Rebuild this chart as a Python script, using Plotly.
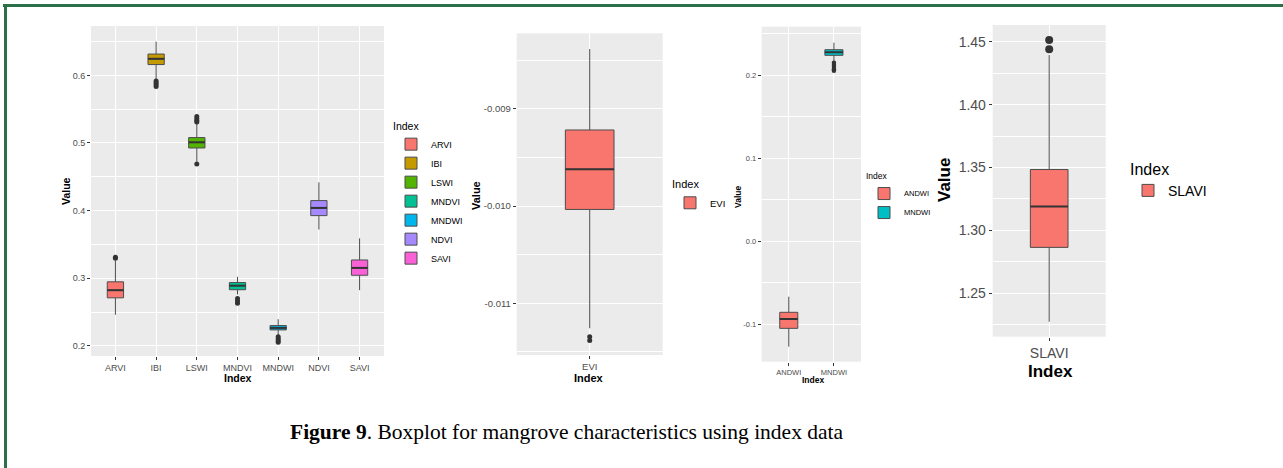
import plotly.graph_objects as go

W, H = 1283, 468

# ---------------- data ----------------
# Panel 1
p1_cats = ["ARVI", "IBI", "LSWI", "MNDVI", "MNDWI", "NDVI", "SAVI"]
p1_colors = ["#F8766D", "#C49A00", "#53B400", "#00C094", "#00B6EB", "#A58AFF", "#FB61D7"]
p1_lower = [0.246, 0.593, 0.4725, 0.276, 0.2148, 0.372, 0.2823]
p1_q1 = [0.271, 0.616, 0.4926, 0.283, 0.2236, 0.3926, 0.3044]
p1_med = [0.2823, 0.6245, 0.501, 0.289, 0.2266, 0.404, 0.3153]
p1_q3 = [0.2947, 0.6315, 0.508, 0.2936, 0.2300, 0.4148, 0.327]
p1_upper = [0.326, 0.650, 0.529, 0.302, 0.2394, 0.4418, 0.359]
p1_out = [[0.331, 0.3295], [0.5915, 0.589, 0.5865, 0.5835], [0.539, 0.536, 0.533, 0.531, 0.469],
          [0.270, 0.2665, 0.263], [0.2135, 0.2105, 0.208, 0.2055], [], []]
p1_ticks = [0.2, 0.3, 0.4, 0.5, 0.6]
p1_ticktext = ["0.2", "0.3", "0.4", "0.5", "0.6"]
p1_minor = [0.25, 0.35, 0.45, 0.55, 0.65]

# Panel 2
p2_cats = ["EVI"]
p2_colors = ["#F8766D"]
p2_lower = [-0.011257]
p2_q1 = [-0.010034]
p2_med = [-0.009621]
p2_q3 = [-0.009216]
p2_upper = [-0.008383]
p2_out = [[-0.011343, -0.011384]]
p2_ticks = [-0.011, -0.010, -0.009]
p2_ticktext = ["-0.011", "-0.010", "-0.009"]
p2_minor = [-0.0115, -0.0105, -0.0095, -0.0085]

# Panel 3
p3_cats = ["ANDWI", "MNDWI"]
p3_colors = ["#F8766D", "#00BFC4"]
p3_lower = [-0.1273, 0.216]
p3_q1 = [-0.1052, 0.2237]
p3_med = [-0.094, 0.2273]
p3_q3 = [-0.0859, 0.2305]
p3_upper = [-0.0671, 0.2389]
p3_out = [[], [0.2148, 0.212, 0.2095, 0.207, 0.2052]]
p3_ticks = [-0.1, 0.0, 0.1, 0.2]
p3_ticktext = ["-0.1", "0.0", "0.1", "0.2"]
p3_minor = [-0.15, -0.05, 0.05, 0.15, 0.25]

# Panel 4
p4_cats = ["SLAVI"]
p4_colors = ["#F8766D"]
p4_lower = [1.2274]
p4_q1 = [1.2865]
p4_med = [1.319]
p4_q3 = [1.3484]
p4_upper = [1.4394]
p4_out = [[1.4513, 1.444]]
p4_ticks = [1.25, 1.30, 1.35, 1.40, 1.45]
p4_ticktext = ["1.25", "1.30", "1.35", "1.40", "1.45"]
p4_minor = [1.225, 1.275, 1.325, 1.375, 1.425, 1.475]

caption_bold = "Figure 9"
caption_rest = ". Boxplot for mangrove characteristics using index data"

# ---------------- layout helpers ----------------
def px_x(v):
    return v / W

def px_y(v):
    return 1 - v / H

panels = [
    dict(cats=p1_cats, colors=p1_colors, lower=p1_lower, q1=p1_q1, med=p1_med, q3=p1_q3,
         upper=p1_upper, out=p1_out, ticks=p1_ticks, ticktext=p1_ticktext, minor=p1_minor,
         yr=[0.185, 0.673], box=(91, 384, 26, 356), tick_font=9, title_font=10.5,
         leg_font=9, leg_title=10.5, leg_pos=(391, 116), msize=5,
         vtitle=(66, 191), ititle=(238, 378)),
    dict(cats=p2_cats, colors=p2_colors, lower=p2_lower, q1=p2_q1, med=p2_med, q3=p2_q3,
         upper=p2_upper, out=p2_out, ticks=p2_ticks, ticktext=p2_ticktext, minor=p2_minor,
         yr=[-0.011532, -0.008221], box=(516.7, 662.7, 33.3, 355), tick_font=9.5, title_font=11,
         leg_font=9.5, leg_title=11, leg_pos=(670, 174), msize=5,
         vtitle=(476, 195), ititle=(589, 378)),
    dict(cats=p3_cats, colors=p3_colors, lower=p3_lower, q1=p3_q1, med=p3_med, q3=p3_q3,
         upper=p3_upper, out=p3_out, ticks=p3_ticks, ticktext=p3_ticktext, minor=p3_minor,
         yr=[-0.1454, 0.2582], box=(761.7, 861, 26.7, 361.7), tick_font=7.5, title_font=8.5,
         leg_font=7.5, leg_title=8.5, leg_pos=(864, 168), msize=4.5,
         vtitle=(738, 197), ititle=(813, 380)),
    dict(cats=p4_cats, colors=p4_colors, lower=p4_lower, q1=p4_q1, med=p4_med, q3=p4_q3,
         upper=p4_upper, out=p4_out, ticks=p4_ticks, ticktext=p4_ticktext, minor=p4_minor,
         yr=[1.2155, 1.4633], box=(992.7, 1105.7, 25, 336.7), tick_font=14, title_font=17,
         leg_font=14, leg_title=16, leg_pos=(1128, 154), msize=8,
         vtitle=(945, 180), ititle=(1050, 371)),
]

fig = go.Figure()
annotations = []
BOXW = 0.4
FONT = "Liberation Sans, Arial, sans-serif"

for k, p in enumerate(panels):
    sfx = "" if k == 0 else str(k + 1)
    xa, ya = "x" + sfx, "y" + sfx
    leg = "legend" + sfx
    n = len(p["cats"])
    for i, c in enumerate(p["cats"]):
        fig.add_trace(go.Box(
            x=[i], q1=[p["q1"][i]], median=[p["med"][i]], q3=[p["q3"][i]],
            lowerfence=[p["lower"][i]], upperfence=[p["upper"][i]],
            name=c, width=BOXW, whiskerwidth=0, boxpoints=False,
            fillcolor=p["colors"][i], line=dict(color="#4d4d4d", width=1),
            xaxis=xa, yaxis=ya, legend=leg, showlegend=True, hoverinfo="skip"))
        # thicker median line as in ggplot
        fig.add_trace(go.Scatter(
            x=[i - BOXW / 2, i + BOXW / 2], y=[p["med"][i], p["med"][i]],
            mode="lines", line=dict(color="#333333", width=2),
            xaxis=xa, yaxis=ya, showlegend=False, hoverinfo="skip"))
        if p["out"][i]:
            fig.add_trace(go.Scatter(
                x=[i] * len(p["out"][i]), y=p["out"][i], mode="markers",
                marker=dict(color="#333333", size=p["msize"]),
                xaxis=xa, yaxis=ya, showlegend=False, hoverinfo="skip"))
    x0, x1, y0, y1 = p["box"]
    common_tick = dict(ticks="outside", ticklen=3, tickcolor="#333333", tickwidth=1,
                       tickfont=dict(family=FONT, size=p["tick_font"], color="#4D4D4D"),
                       showline=False, zeroline=False, gridcolor="white", gridwidth=1.1)
    fig.layout["xaxis" + sfx] = dict(
        domain=[px_x(x0), px_x(x1)], anchor=ya, range=[-0.6, n - 1 + 0.6],
        tickmode="array", tickvals=list(range(n)), ticktext=p["cats"],
        showgrid=True, **common_tick)
    fig.layout["yaxis" + sfx] = dict(
        domain=[px_y(y1), px_y(y0)], anchor=xa, range=p["yr"],
        tickmode="array", tickvals=p["ticks"], ticktext=p["ticktext"], showgrid=True,
        minor=dict(tickmode="array", tickvals=p["minor"], showgrid=True,
                   gridcolor="white", gridwidth=0.5, ticks=""),
        **common_tick)
    lx, ly = p["leg_pos"]
    fig.layout[leg] = dict(
        x=px_x(lx), y=px_y(ly), xanchor="left", yanchor="top",
        bgcolor="rgba(0,0,0,0)",
        title=dict(text="Index", font=dict(family=FONT, size=p["leg_title"], color="black")),
        font=dict(family=FONT, size=p["leg_font"], color="black"),
        tracegroupgap=0, itemclick=False)
    vx, vy = p["vtitle"]
    annotations.append(dict(text="<b>Value</b>", x=px_x(vx), y=px_y(vy), xref="paper", yref="paper",
                            xanchor="center", yanchor="middle",
                            showarrow=False, textangle=-90,
                            font=dict(family=FONT, size=p["title_font"], color="black")))
    ix, iy = p["ititle"]
    annotations.append(dict(text="<b>Index</b>", x=px_x(ix), y=px_y(iy), xref="paper", yref="paper",
                            xanchor="center", yanchor="middle", showarrow=False,
                            font=dict(family=FONT, size=p["title_font"], color="black")))

annotations.append(dict(
    text="<b>" + caption_bold + "</b>" + caption_rest, x=px_x(567), y=px_y(432),
    xref="paper", yref="paper", xanchor="center", yanchor="middle", showarrow=False,
    font=dict(family="Liberation Serif, serif", size=21.5, color="black")))

shapes = [
    dict(type="line", xref="paper", yref="paper", x0=px_x(3), x1=1, y0=px_y(5.5), y1=px_y(5.5),
         line=dict(color="#2B7049", width=3)),
    dict(type="line", xref="paper", yref="paper", x0=px_x(5.5), x1=px_x(5.5), y0=px_y(4), y1=0,
         line=dict(color="#2B7049", width=3)),
]

fig.update_layout(
    width=W, height=H, margin=dict(l=0, r=0, t=0, b=0),
    paper_bgcolor="white", plot_bgcolor="#EBEBEB",
    annotations=annotations, shapes=shapes, showlegend=True,
)

fig.write_html("out.html", config={"displayModeBar": False})
